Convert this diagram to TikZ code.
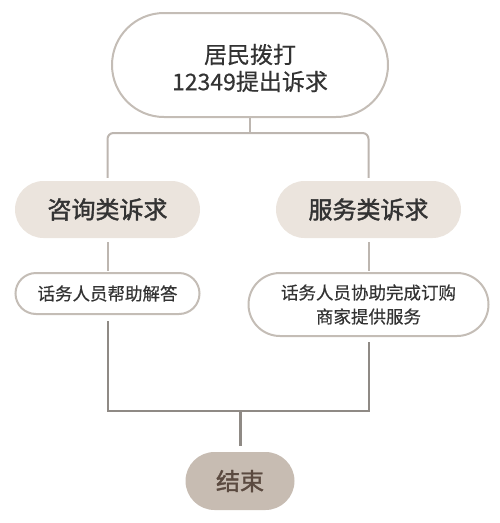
\documentclass[tikz,border=0pt]{standalone}
\usepackage{fontspec}
\setmainfont{Noto Sans CJK SC}[FakeBold=0.4]
\newfontfamily\cjkmed{Noto Sans CJK SC}[FakeBold=1.6]
\definecolor{bordercol}{HTML}{C4BDB6}
\definecolor{connup}{HTML}{BDB6B0}
\definecolor{conndown}{HTML}{8F8A85}
\definecolor{pillfill}{HTML}{EBE4DD}
\definecolor{endfill}{HTML}{C7BCB2}
\definecolor{endtext}{HTML}{5B4A40}
\definecolor{txt}{HTML}{333333}
\begin{document}
\begin{tikzpicture}[x=1pt,y=-1pt,
  outlined/.style={draw=bordercol,line width=2pt,fill=white,text=txt,inner sep=0pt,align=center},
  pill/.style={fill=pillfill,text=txt,inner sep=0pt,align=center,font=\fontsize{24}{28}\selectfont\cjkmed},
  endpill/.style={fill=endfill,text=endtext,inner sep=0pt,font=\fontsize{24}{28}\selectfont\cjkmed},
  conn/.style={draw=connup,line width=2pt},
  conn2/.style={draw=conndown,line width=2pt},
  stem/.style={draw=conndown,line width=3pt}]
\useasboundingbox (0,0) rectangle (500,523);
\node[outlined,minimum width=276pt,minimum height=104pt,rounded corners=52pt] (top) at (250,65) {};
\node[text=txt,align=center,inner sep=0pt,font=\fontsize{23}{27}\selectfont] (toptext) at (250,68) {居民拨打\\12349提出诉求};
\node[pill,minimum width=185pt,minimum height=57pt,rounded corners=28.5pt] (q) at (107.5,209.5) {咨询类诉求};
\node[pill,minimum width=185pt,minimum height=57pt,rounded corners=28.5pt] (s) at (368.5,209.5) {服务类诉求};
\node[outlined,minimum width=184pt,minimum height=41pt,rounded corners=20.5pt,font=\fontsize{17.5}{24}\selectfont] (qa) at (107.5,293.5) {话务人员帮助解答};
\node[outlined,minimum width=240pt,minimum height=63pt,rounded corners=31.5pt,font=\fontsize{17.5}{24}\selectfont] (sa) at (368.5,304.5) {话务人员协助完成订购\\商家提供服务};
\node[endpill,minimum width=109pt,minimum height=58pt,rounded corners=29pt] (end) at (240,481) {结束};
\coordinate (split) at (250,133);
\coordinate (merge) at (240,411);
\draw[conn] (top.south) -- (split);
\draw[conn,rounded corners=6pt,shorten <=3pt,shorten >=3pt] (q.north) |- (split) -| (s.north);
\draw[conn,shorten <=4pt,shorten >=1pt] (q.south) -- (qa.north);
\draw[conn,shorten <=4pt,shorten >=1pt] (s.south) -- (sa.north);
\draw[conn2,shorten <=6pt,shorten >=5pt] (qa.south) -- (qa.south |- merge) -| (sa.south);
\draw[stem,shorten >=6pt] (merge) -- (end.north);
\end{tikzpicture}
\end{document}
